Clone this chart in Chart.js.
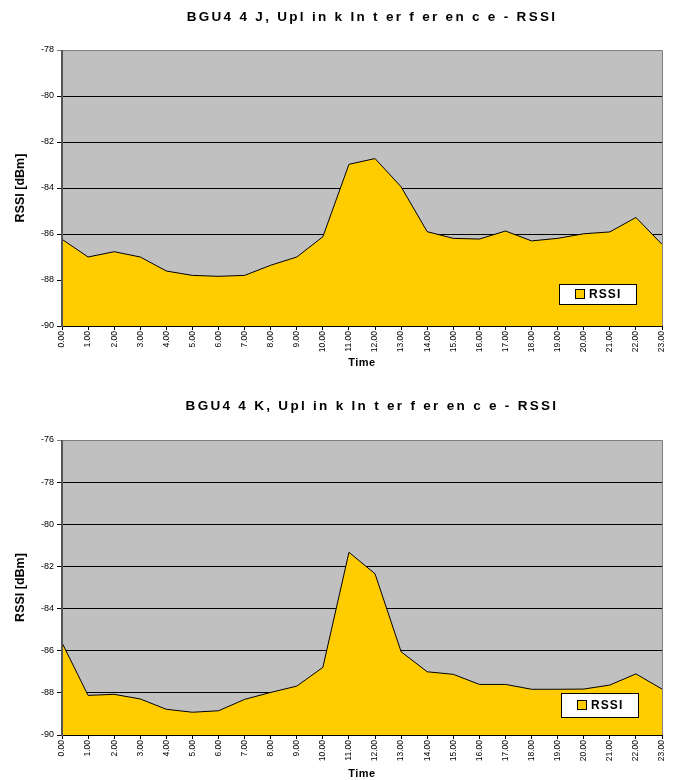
<!DOCTYPE html>
<html>
<head>
<meta charset="utf-8">
<script src="https://cdn.jsdelivr.net/npm/chart.js@4/dist/chart.umd.min.js"></script>
<style>
  html, body { margin: 0; padding: 0; background: #fff; }
  #wrap { position: relative; width: 675px; height: 780px; }
  .panel { position: absolute; left: 0; width: 675px; height: 390px; }
</style>
</head>
<body>
<div id="wrap">
  <div class="panel" style="top:0"><canvas id="chartJ" width="675" height="390"></canvas></div>
  <div class="panel" style="top:390px"><canvas id="chartK" width="675" height="390"></canvas></div>
</div>
<script>
// Hourly time labels
const hours = ['0.00','1.00','2.00','3.00','4.00','5.00','6.00','7.00','8.00','9.00','10.00','11.00',
               '12.00','13.00','14.00','15.00','16.00','17.00','18.00','19.00','20.00','21.00','22.00','23.00'];

// Uplink interference RSSI per hour [dBm]
const rssiJ = [-86.23, -87.0, -86.77, -87.0, -87.61, -87.8, -87.84, -87.8, -87.36, -87.0, -86.12, -82.97,
               -82.72, -83.95, -85.9, -86.19, -86.22, -85.87, -86.3, -86.19, -85.99, -85.91, -85.28, -86.45];
const rssiK = [-85.62, -88.12, -88.07, -88.29, -88.78, -88.92, -88.85, -88.31, -87.98, -87.68, -86.79, -81.33,
               -82.35, -86.05, -87.0, -87.12, -87.6, -87.6, -87.83, -87.83, -87.82, -87.63, -87.1, -87.82];

// Value axis ranges
const yRangeJ = [-90, -78];
const yRangeK = [-90, -76];
const yStep = 2;

const titleJ = 'BGU4 4 J, Upl in k In t er f er en c e - RSSI';
const titleK = 'BGU4 4 K, Upl in k In t er f er en c e - RSSI';
const seriesName = 'RSSI';

const FONT = '"Liberation Sans", Arial, sans-serif';
Chart.defaults.font.family = FONT;
Chart.defaults.color = '#000';

function drawSpaced(ctx, text, x, y, spacing) {
  if ('letterSpacing' in ctx) {
    ctx.letterSpacing = spacing + 'px';
    ctx.fillText(text, x, y);
    ctx.letterSpacing = '0px';
  } else {
    ctx.fillText(text, x, y);
  }
}

// Grey plot background, frame lines and the text decorations
const frame = {
  id: 'frame',
  beforeDraw(chart) {
    const { ctx, chartArea: a } = chart;
    ctx.save();
    ctx.fillStyle = '#C0C0C0';
    ctx.fillRect(a.left, a.top, a.right - a.left, a.bottom - a.top);
    ctx.restore();
  },
  afterDatasetsDraw(chart) {
    const { ctx, chartArea: a } = chart;
    ctx.save();
    // right and top frame
    ctx.strokeStyle = '#808080';
    ctx.lineWidth = 1;
    ctx.beginPath();
    ctx.moveTo(a.left, a.top + 0.5);
    ctx.lineTo(a.right + 0.5, a.top + 0.5);
    ctx.lineTo(a.right + 0.5, a.bottom);
    ctx.stroke();
    // bottom axis line
    ctx.strokeStyle = '#000';
    ctx.beginPath();
    ctx.moveTo(a.left, a.bottom + 0.5);
    ctx.lineTo(a.right + 1, a.bottom + 0.5);
    ctx.stroke();
    // left value axis line
    ctx.strokeStyle = '#555';
    ctx.lineWidth = 2;
    ctx.beginPath();
    ctx.moveTo(a.left, a.top);
    ctx.lineTo(a.left, a.bottom + 1);
    ctx.stroke();
    ctx.restore();
  },
  afterDraw(chart, args, opts) {
    const { ctx, chartArea: a } = chart;
    const cx = (a.left + a.right) / 2;
    ctx.save();
    ctx.fillStyle = '#000';
    ctx.textAlign = 'center';
    ctx.textBaseline = 'middle';
    // chart title
    ctx.font = 'bold 13.5px ' + FONT;
    drawSpaced(ctx, opts.title, cx + 10, opts.titleY, 2.3);
    // x axis title
    ctx.font = 'bold 11px ' + FONT;
    drawSpaced(ctx, 'Time', cx, opts.timeY, 0.5);
    // y axis title
    ctx.save();
    ctx.translate(21, (a.top + a.bottom) / 2);
    ctx.rotate(-Math.PI / 2);
    ctx.font = 'bold 12.5px ' + FONT;
    drawSpaced(ctx, 'RSSI [dBm]', 0, 0, 0);
    ctx.restore();

    // legend box
    const ds = chart.data.datasets[0];
    const lb = opts.legend;
    const bx = a.right - lb.right - lb.w, by = a.bottom - lb.bottom - lb.h;
    ctx.fillStyle = '#fff';
    ctx.fillRect(bx, by, lb.w, lb.h);
    ctx.strokeStyle = '#000';
    ctx.lineWidth = 1;
    ctx.strokeRect(bx + 0.5, by + 0.5, lb.w, lb.h);
    const sy = by + lb.h / 2;
    ctx.fillStyle = ds.backgroundColor;
    ctx.fillRect(bx + 16.5, sy - 4.5, 9, 9);
    ctx.strokeRect(bx + 16.5, sy - 4.5, 9, 9);
    ctx.fillStyle = '#000';
    ctx.textAlign = 'left';
    ctx.font = 'bold 12px ' + FONT;
    drawSpaced(ctx, ds.label, bx + 30, sy + 0.5, 1.1);
    ctx.restore();
  }
};

function makeChart(id, values, range, frameOpts, axisHeight) {
  return new Chart(document.getElementById(id), {
    type: 'line',
    data: {
      labels: hours,
      datasets: [{
        label: seriesName,
        data: values,
        fill: 'start',
        backgroundColor: '#FFCC00',
        borderColor: '#000',
        borderWidth: 1,
        pointRadius: 0,
        tension: 0
      }]
    },
    options: {
      responsive: false,
      animation: false,
      devicePixelRatio: 1,
      layout: { padding: { left: 0, right: 13, top: 50, bottom: 0 } },
      plugins: {
        legend: { display: false },
        title: { display: false },
        tooltip: { enabled: false },
        frame: frameOpts
      },
      scales: {
        x: {
          type: 'category',
          offset: false,
          grid: { drawOnChartArea: false, drawTicks: true, tickLength: 4, color: '#000' },
          border: { display: false },
          ticks: {
            autoSkip: false, minRotation: 90, maxRotation: 90,
            font: { size: 8.5 }, color: '#000', padding: 1
          },
          afterFit(s) { s.height = axisHeight; }
        },
        y: {
          min: range[0], max: range[1],
          grid: {
            color: c => (c.tick && c.tick.value === range[1]) ? '#808080' : '#000',
            lineWidth: 1, tickLength: 5, drawTicks: true
          },
          border: { display: false },
          ticks: { stepSize: yStep, font: { size: 9 }, color: '#000', padding: 3 },
          afterFit(s) { s.width = 62; }
        }
      }
    },
    plugins: [frame]
  });
}

makeChart('chartJ', rssiJ, yRangeJ,
  { title: titleJ, titleY: 17, timeY: 363, legend: { w: 77, h: 20, right: 26, bottom: 22 } }, 64);
makeChart('chartK', rssiK, yRangeK,
  { title: titleK, titleY: 16, timeY: 384, legend: { w: 77, h: 24, right: 24, bottom: 18 } }, 45);
</script>
</body>
</html>
